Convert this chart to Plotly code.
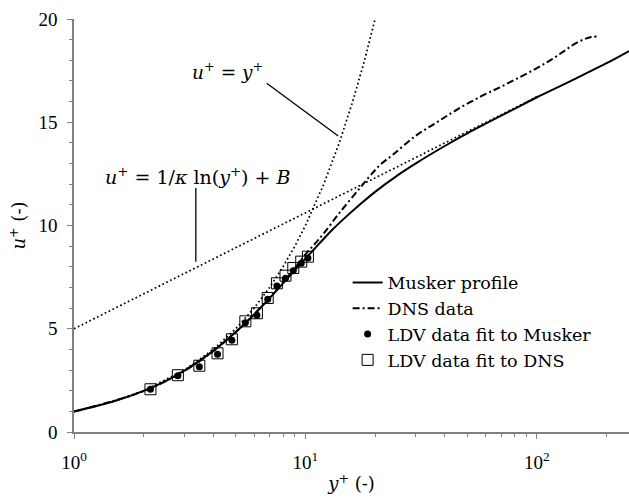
import plotly.graph_objects as go

# ---------------- data ----------------
musker_y = [1, 1.5, 2, 2.5, 3, 4, 5, 6, 7, 8, 9, 10, 11, 12, 13, 15, 17, 20, 25, 30,
            40, 50, 60, 80, 100, 130, 160, 200, 250]
musker_u = [0.99, 1.50, 1.99, 2.48, 2.97, 3.93, 4.84, 5.69, 6.48, 7.20, 7.84, 8.40,
            8.90, 9.36, 9.77, 10.43, 10.97, 11.63, 12.43, 13.01, 13.85, 14.46, 14.93,
            15.65, 16.21, 16.82, 17.32, 17.86, 18.45]

dns_y = [1, 2, 3, 4, 5, 6, 7, 8, 9, 10, 11, 12, 14, 17, 19, 21, 24, 30, 37, 45,
         57, 70, 85, 100, 115, 130, 145, 160, 172, 182]
dns_u = [0.99, 1.98, 2.96, 3.92, 4.84, 5.70, 6.50, 7.24, 7.94, 8.60, 9.12, 9.62,
         10.60, 11.75, 12.40, 12.93, 13.45, 14.35, 15.00, 15.60, 16.24, 16.72, 17.20,
         17.62, 18.02, 18.42, 18.78, 19.02, 19.13, 19.15]

ldv_y = [2.14, 2.81, 3.48, 4.17, 4.81, 5.50, 6.17, 6.87, 7.53, 8.20, 8.86, 9.59, 10.25]
ldv_musker_u = [2.07, 2.73, 3.16, 3.76, 4.44, 5.29, 5.65, 6.43, 7.07, 7.44, 7.81, 8.17, 8.43]
ldv_dns_u = [2.07, 2.75, 3.21, 3.81, 4.49, 5.36, 5.75, 6.49, 7.20, 7.57, 7.94, 8.25, 8.49]

linear_y = [1, 1.5, 2, 3, 4, 5, 6, 7, 8, 9, 10, 12, 14, 16, 18, 20]
linear_u = [1, 1.5, 2, 3, 4, 5, 6, 7, 8, 9, 10, 12, 14, 16, 18, 20]

loglaw_y = [1, 100]
loglaw_u = [5.0, 16.23]

x_tickvals = [1, 10, 100]
x_ticktext = ["10<sup>0</sup>", "10<sup>1</sup>", "10<sup>2</sup>"]
y_tickvals = [0, 5, 10, 15, 20]

TICKFONT = "Liberation Serif"
TEXTFONT = "DejaVu Serif"
AX = "#808080"

fig = go.Figure()

fig.add_trace(go.Scatter(x=linear_y, y=linear_u, mode="lines", showlegend=False,
                         line=dict(color="black", width=1.7, dash="1.7px,2.6px")))
fig.add_trace(go.Scatter(x=loglaw_y, y=loglaw_u, mode="lines", showlegend=False,
                         line=dict(color="black", width=1.7, dash="1.7px,2.6px")))
fig.add_trace(go.Scatter(x=musker_y, y=musker_u, mode="lines", name="Musker profile",
                         line=dict(color="black", width=2, shape="spline")))
fig.add_trace(go.Scatter(x=dns_y, y=dns_u, mode="lines", name="DNS data",
                         line=dict(color="black", width=2, shape="spline",
                                   dash="7px,3px,2px,3px")))
fig.add_trace(go.Scatter(x=ldv_y, y=ldv_musker_u, mode="markers",
                         name="LDV data fit to Musker",
                         marker=dict(symbol="circle", size=7, color="black")))
fig.add_trace(go.Scatter(x=ldv_y, y=ldv_dns_u, mode="markers",
                         name="LDV data fit to DNS",
                         marker=dict(symbol="square-open", size=11, color="black",
                                     line=dict(width=1, color="black"))))

# leader lines for the two annotations
fig.add_shape(type="line", xref="x", yref="y", x0=6.80, y0=16.89, x1=13.86, y1=14.33,
              line=dict(color="black", width=1.3))
fig.add_shape(type="line", xref="x", yref="y", x0=3.36, y0=11.82, x1=3.36, y1=8.25,
              line=dict(color="black", width=1.3))

fig.add_annotation(x=0.665, y=17.48, xref="x", yref="y", showarrow=False,
                   text="<i>u</i><sup>+</sup> = <i>y</i><sup>+</sup>",
                   font=dict(family=TEXTFONT, size=18.5, color="black"))
fig.add_annotation(x=0.5356, y=12.40, xref="x", yref="y", showarrow=False,
                   text="<i>u</i><sup>+</sup> = 1/<i>κ</i> ln(<i>y</i><sup>+</sup>) + <i>B</i>",
                   font=dict(family=TEXTFONT, size=19, color="black"))

fig.update_layout(
    width=629, height=499,
    margin=dict(l=74, r=0, t=19, b=67),
    paper_bgcolor="white", plot_bgcolor="white",
    font=dict(family=TICKFONT, size=19, color="black"),
    legend=dict(x=0.493, y=0.405, xanchor="left", yanchor="top",
                bgcolor="rgba(0,0,0,0)", font=dict(family=TEXTFONT, size=17.5),
                tracegroupgap=0, itemwidth=30),
    xaxis=dict(type="log", range=[0, 2.398], tickvals=x_tickvals, ticktext=x_ticktext,
               ticks="outside", ticklen=5, tickcolor=AX, tickwidth=1.2,
               showline=True, linecolor=AX, linewidth=1.5, showgrid=False,
               zeroline=False, ticklabelstandoff=7,
               tickfont=dict(family=TICKFONT, size=19),
               minor=dict(dtick="D1", ticks="outside", ticklen=3, tickcolor=AX,
                          tickwidth=1.2, showgrid=False),
               title=dict(text="<i>y</i><sup>+</sup> (-)", standoff=6,
                          font=dict(family=TEXTFONT, size=18))),
    yaxis=dict(range=[0, 20], tickvals=y_tickvals,
               ticks="outside", ticklen=5, tickcolor=AX, tickwidth=1.2,
               showline=True, linecolor=AX, linewidth=1.5, showgrid=False,
               zeroline=False, ticklabelstandoff=6,
               tickfont=dict(family=TICKFONT, size=19),
               minor=dict(dtick=1, ticks="outside", ticklen=3, tickcolor=AX,
                          tickwidth=1.2, showgrid=False),
               title=dict(text="<i>u</i><sup>+</sup> (-)", standoff=8,
                          font=dict(family=TEXTFONT, size=18))),
)

fig.write_html("out.html")
